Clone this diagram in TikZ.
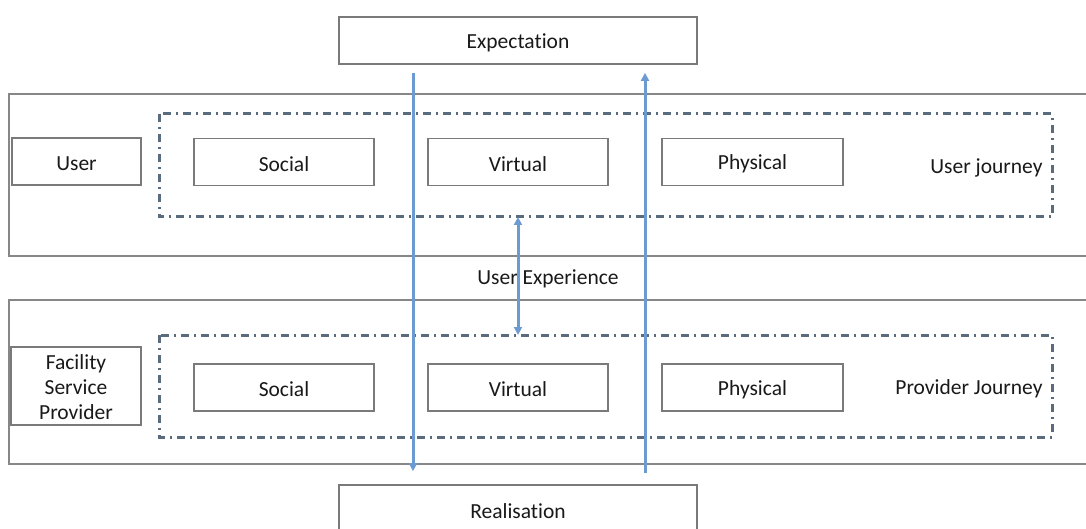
\documentclass[tikz,border=0pt]{standalone}
\usepackage{fontspec}
\setmainfont{Carlito}[Ligatures={NoCommon,NoContextual}]
\usetikzlibrary{arrows.meta}
\definecolor{boxgray}{HTML}{7A7A7A}
\definecolor{dashcol}{HTML}{5B6B7E}
\definecolor{flowblue}{HTML}{6C9BD2}
\tikzset{
  every node/.style={font=\fontsize{21.5}{25}\selectfont, text=black!90, align=center},
  plainbox/.style={draw=boxgray, line width=1.7pt, fill=white, minimum width=#1, inner sep=0pt},
  lanebox/.style={draw=boxgray!90, line width=1.9pt},
  journey/.style={draw=dashcol, line width=3pt, dash pattern=on 8pt off 5pt on 2pt off 5pt},
  flow/.style={draw=flowblue, line width=3pt, -{Triangle[length=8pt,width=8pt]}},
  both/.style={draw=flowblue, line width=3pt, {Triangle[length=8pt,width=8pt]}-{Triangle[length=8pt,width=8pt]}},
}
\begin{document}
\begin{tikzpicture}[x=1pt,y=-1pt]
\useasboundingbox (0,0) rectangle (1086,529);
% swim lanes
\draw[lanebox] (1090,94) -- (9,94) -- (9,256) -- (1090,256);
\draw[lanebox] (1090,300) -- (9,300) -- (9,464) -- (1090,464);
% journey frames
\draw[journey] (159,114) rectangle (1052,217);
\draw[journey] (159,335) rectangle (1052,437);
\coordinate (ujbot) at (605,217);
\coordinate (pjtop) at (605,335);
% top and bottom boxes
\node[plainbox=358pt, minimum height=47pt] (exp) at (518,40.5) {};
\node (exptext) at (518,42.5) {Expectation};
\node[plainbox=358pt, minimum height=60pt] (real) at (518,515) {};
\node (realtext) at (518,511) {Realisation};
% user lane
\node[plainbox=129pt, minimum height=47pt] (user) at (76.5,161.5) {};
\node (usertext) at (76.5,163.5) {User};
\node[plainbox=180pt, minimum height=47pt] (usoc) at (284,162) {};
\node[plainbox=180pt, minimum height=47pt] (uvir) at (518,162) {};
\node[plainbox=181pt, minimum height=47pt] (uphy) at (752.5,162) {};
\node (usoct) at (284,164) {Social};
\node (uvirt) at (518,164) {Virtual};
\node (uphyt) at (752.5,164) {Physical};
\node[anchor=east] (ujl) at (1046,168) {User journey};
% provider lane
\node[plainbox=130pt, minimum height=78pt] (fsp) at (76,386) {};
\node (fspt) at (76,387) {Facility\\Service\\Provider};
\node[plainbox=180pt, minimum height=47pt] (psoc) at (284,387.5) {};
\node[plainbox=180pt, minimum height=47pt] (pvir) at (518,387.5) {};
\node[plainbox=181pt, minimum height=47pt] (pphy) at (752.5,387.5) {};
\node (psoct) at (284,389.5) {Social};
\node (pvirt) at (518,389.5) {Virtual};
\node (pphyt) at (752.5,389.5) {Physical};
\node[anchor=east] (pjl) at (1046,388.5) {Provider Journey};
% between the lanes
\node (ux) at (548,279) {User Experience};
% flows
\draw[flow] ([xshift=-105pt,yshift=-8pt]exp.south) -- ([xshift=-105pt,yshift=13pt]real.north);
\draw[flow] ([xshift=127pt,yshift=11pt]real.north) -- ([xshift=127pt,yshift=-8pt]exp.south);
\draw[both] (uvir |- ujbot) -- (uvir |- pjtop);
\end{tikzpicture}
\end{document}
